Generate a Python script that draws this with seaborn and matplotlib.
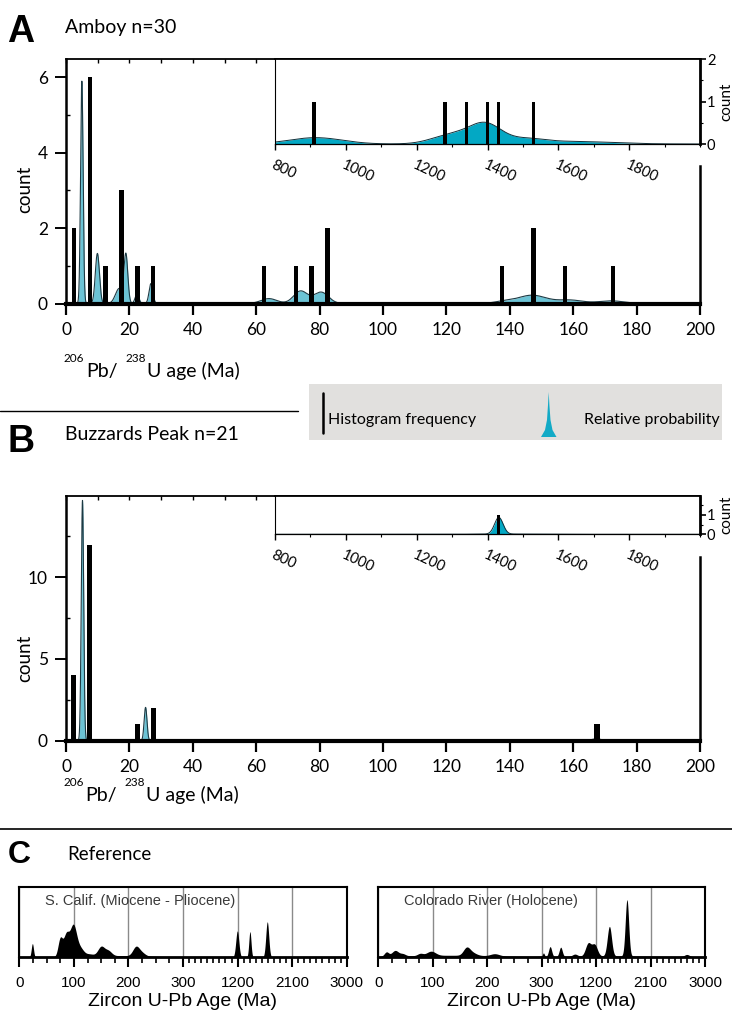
import numpy as np
import seaborn as sns
import matplotlib.pyplot as plt
from matplotlib.patches import Rectangle, Polygon
from matplotlib.lines import Line2D
from matplotlib.ticker import MultipleLocator, FixedLocator
from matplotlib.transforms import ScaledTranslation

sns.set_style("white")
plt.rcParams["font.family"] = ["Lato", "DejaVu Sans"]
for k in ["axes.edgecolor", "xtick.color", "ytick.color", "text.color", "axes.labelcolor"]:
    plt.rcParams[k] = "black"

W, H = 732, 1013

# histogram bins (bin centre in Ma, count)
amboy_ages = [2.5, 7.5, 12.5, 17.5, 22.5, 27.5, 62.5, 72.5, 77.5, 82.5, 137.5, 147.5, 157.5, 172.5]
amboy_counts = [2, 6, 1, 3, 1, 1, 1, 1, 1, 2, 1, 2, 1, 1]
amboy_old_ages = [910, 1280, 1340, 1400, 1430, 1530]
amboy_old_counts = [1, 1, 1, 1, 1, 1]
buzz_ages = [2.5, 7.5, 22.5, 27.5, 167.5]
buzz_counts = [4, 12, 1, 2, 1]
buzz_old_ages = [1430]
buzz_old_counts = [1]

# relative probability peaks: centre (Ma), height, width (Ma)
amboy_pk_mu = [5.0, 9.9, 16.8, 18.9, 22.4, 26.8, 64, 74, 80.5, 138, 147, 159, 172]
amboy_pk_h = [5.9, 1.33, 0.4, 1.25, 0.25, 0.53, 0.13, 0.33, 0.3, 0.05, 0.22, 0.09, 0.07]
amboy_pk_sd = [0.4, 0.65, 1.2, 0.6, 0.6, 0.6, 2.5, 2.2, 2.3, 3, 4.5, 4, 4]
amboy_old_mu = [915, 1300, 1395, 1510, 1640]
amboy_old_h = [0.15, 0.22, 0.45, 0.1, 0.06]
amboy_old_sd = [75, 55, 45, 50, 110]
buzz_pk_mu = [5.2, 25.1, 167.3]
buzz_pk_h = [14.7, 2.04, 0.12]
buzz_pk_sd = [0.38, 0.45, 1.5]
buzz_old_mu = [1432, 1450]
buzz_old_h = [0.86, 0.015]
buzz_old_sd = [12, 80]

# reference curves (panel C), heights as fraction of the frame
calif_mu = [24, 75, 86, 99, 112, 128, 180, 150, 163, 214, 225, 1196, 1404, 1690]
calif_h = [0.19, 0.25, 0.3, 0.44, 0.1, 0.03, 0.02, 0.13, 0.07, 0.13, 0.04, 0.37, 0.36, 0.5]
calif_sd = [2, 4, 5, 6, 6, 8, 60, 6, 6, 6, 6, 25, 18, 24]
colo_mu = [15, 31, 45, 77, 97, 162, 172, 214, 130, 330, 440, 615, 850, 1070, 1175, 1420, 1710, 2700, 1500]
colo_h = [0.06, 0.08, 0.03, 0.03, 0.06, 0.1, 0.04, 0.03, 0.02, 0.05, 0.14, 0.13, 0.03, 0.18, 0.16, 0.42, 0.8, 0.03, 0.015]
colo_sd = [4, 6, 5, 5, 8, 6, 8, 8, 80, 15, 25, 25, 40, 45, 45, 35, 28, 40, 900]

c_ticks = [0, 100, 200, 300, 1200, 2100, 3000]
c_minor = [25, 50, 75, 125, 150, 175, 225, 250, 275] + list(range(400, 1200, 100)) \
    + list(range(1300, 2100, 100)) + list(range(2200, 3000, 100))


def pdp(grid, mu, h, sd):
    return sum(hh * np.exp(-0.5 * ((grid - m) / s) ** 2) for m, hh, s in zip(mu, h, sd))


fig = plt.figure(figsize=(W / 100, H / 100), dpi=100)


def add_ax(l, t, r, b):
    return fig.add_axes([l / W, 1 - b / H, (r - l) / W, (b - t) / H])


def main_panel(ax, ages, counts, mu, h, sd, ymax, major, minor, spine_top, shrink):
    grid = np.linspace(0, 200, 8001)
    y = pdp(grid, mu, h, sd)
    ax.fill_between(grid, y, color="#6cc3d5", lw=0, zorder=1)
    ax.plot(grid, y, color="#1d3a44", lw=0.8, zorder=1.5)
    sns.histplot(x=ages, weights=counts, binwidth=5, binrange=(0, 200), shrink=shrink,
                 color="black", alpha=1, edgecolor="none", linewidth=0, ax=ax, zorder=3)
    ax.set_xlim(0, 200)
    ax.set_ylim(0, ymax)
    ax.set_xlabel("")
    ax.set_ylabel("")
    ax.set_xticks(range(0, 201, 20))
    ax.xaxis.set_minor_locator(MultipleLocator(10))
    ax.xaxis.remove_overlapping_locs = False
    ax.tick_params(axis="x", which="major", bottom=True, direction="out", length=8, width=1.6,
                   labelsize=12.5, pad=5)
    ax.tick_params(axis="x", which="minor", bottom=False, top=True, direction="in", length=3, width=1)
    ax.set_yticks(major)
    ax.yaxis.set_minor_locator(FixedLocator(minor))
    ax.tick_params(axis="y", which="major", left=True, direction="out", length=8, width=1.4,
                   labelsize=12.5, pad=5)
    ax.tick_params(axis="y", which="minor", left=True, direction="in", length=3, width=1)
    ax.spines["bottom"].set_linewidth(3)
    ax.spines["left"].set_linewidth(1.8)
    ax.spines["top"].set_linewidth(1.3)
    ax.spines["right"].set_linewidth(1.8)
    ax.spines["right"].set_bounds(0, spine_top)


def inset_panel(ax, ages, counts, mu, h, sd, ymax, yticks):
    grid = np.linspace(800, 2000, 4801)
    y = pdp(grid, mu, h, sd)
    ax.fill_between(grid, y, color="#03a8c4", lw=0, zorder=1)
    ax.plot(grid, y, color="#10303a", lw=0.7, zorder=1.5)
    sns.histplot(x=ages, weights=counts, binwidth=10, binrange=(805, 1995), shrink=0.9,
                 color="black", alpha=1, edgecolor="none", linewidth=0, ax=ax, zorder=3)
    ax.set_xlim(800, 2000)
    ax.set_ylim(0, ymax)
    ax.set_xlabel("")
    ticks = list(range(800, 1801, 200))
    ax.set_xticks(ticks)
    ax.set_xticklabels([str(t) for t in ticks], rotation=-25, ha="left", va="top",
                       rotation_mode="anchor")
    for lab in ax.get_xticklabels():
        lab.set_transform(lab.get_transform() + ScaledTranslation(-0.05, 0, fig.dpi_scale_trans))
    ax.xaxis.set_minor_locator(MultipleLocator(100))
    ax.tick_params(axis="x", which="major", bottom=True, direction="out", length=4, width=1,
                   labelsize=10.5, pad=6)
    ax.tick_params(axis="x", which="minor", bottom=True, direction="out", length=2, width=0.8)
    ax.yaxis.tick_right()
    ax.yaxis.set_label_position("right")
    ax.set_ylabel("count", fontsize=11, labelpad=3)
    ax.set_yticks(yticks)
    ax.yaxis.set_minor_locator(MultipleLocator(0.5))
    ax.tick_params(axis="y", which="major", right=True, left=False, direction="out", length=4,
                   width=1.2, labelsize=10.5, pad=1)
    ax.tick_params(axis="y", which="minor", right=True, left=False, direction="out", length=2, width=0.8)
    ax.spines["left"].set_linewidth(0.8)
    ax.spines["top"].set_linewidth(1.3)
    ax.spines["right"].set_linewidth(2)
    ax.spines["bottom"].set_linewidth(0.9)


def fwd(a):
    a = np.asarray(a, dtype=float)
    return np.where(a <= 300, a / 100, 3 + (a - 300) / 900)


def inv(p):
    p = np.asarray(p, dtype=float)
    return np.where(p <= 3, p * 100, 300 + (p - 3) * 900)


def ref_panel(ax, mu, h, sd, label):
    grid = np.concatenate([np.linspace(0, 300, 1501), np.linspace(300, 3000, 5401)])
    y = pdp(grid, mu, h, sd)
    ax.set_xscale("function", functions=(fwd, inv))
    ax.fill_between(grid, y, color="black", lw=0, zorder=2)
    ax.set_xlim(0, 3000)
    ax.set_ylim(0, 1)
    ax.set_yticks([])
    ax.set_xticks(c_ticks, labels=[str(t) for t in c_ticks], fontfamily="Liberation Sans", fontsize=11)
    ax.xaxis.set_minor_locator(FixedLocator(c_minor))
    ax.tick_params(axis="x", which="major", bottom=True, direction="out", length=7, width=1.5, pad=7)
    ax.tick_params(axis="x", which="minor", bottom=True, direction="out", length=4, width=1.2)
    ax.set_axisbelow(True)
    ax.grid(axis="x", which="major", color="#8a8a8a", lw=1)
    ax.set_xlabel("Zircon U-Pb Age (Ma)", fontfamily="Liberation Sans", fontsize=14, labelpad=2)
    for s in ["left", "right", "top"]:
        ax.spines[s].set_linewidth(1.5)
    ax.spines["bottom"].set_linewidth(2)
    ax.text(0.08, 0.8, label, transform=ax.transAxes, fontfamily="Liberation Sans",
            fontsize=10.5, color="#3a3a3a", va="center", ha="left", zorder=4)


# panel A
axA = add_ax(66, 59.3, 700, 303.5)
main_panel(axA, amboy_ages, amboy_counts, amboy_pk_mu, amboy_pk_h, amboy_pk_sd,
           6.48, [0, 2, 4, 6], [1, 3, 5], 3.66, 0.28)
axAi = add_ax(275, 59.3, 700, 144)
inset_panel(axAi, amboy_old_ages, amboy_old_counts, amboy_old_mu, amboy_old_h, amboy_old_sd,
            2, [0, 1, 2])

# panel B
axB = add_ax(66, 496, 700, 740.7)
main_panel(axB, buzz_ages, buzz_counts, buzz_pk_mu, buzz_pk_h, buzz_pk_sd,
           14.97, [0, 5, 10], [2.5, 7.5, 12.5], 11.24, 0.32)
axBi = add_ax(275, 496, 700, 534.3)
inset_panel(axBi, buzz_old_ages, buzz_old_counts, buzz_old_mu, buzz_old_h, buzz_old_sd,
            1.98, [0, 1])

# panel C
axC1 = add_ax(19.3, 886.7, 346.7, 957)
ref_panel(axC1, calif_mu, calif_h, calif_sd, "S. Calif. (Miocene - Pliocene)")
axC2 = add_ax(378.3, 886.7, 705, 957)
ref_panel(axC2, colo_mu, colo_h, colo_sd, "Colorado River (Holocene)")


# text
def ftext(x, y, s, **kw):
    return fig.text(x / W, 1 - y / H, s, **kw)


bold = dict(fontfamily="Liberation Sans", fontweight="bold", va="baseline", ha="left")
ftext(7, 41.7, "A", fontsize=27, **bold)
ftext(7, 452, "B", fontsize=27, **bold)
ftext(8, 863, "C", fontsize=23, **bold)
ftext(65, 32.7, "Amboy n=30", fontsize=14, va="baseline")
ftext(65, 440, "Buzzards Peak n=21", fontsize=14, va="baseline")
ftext(67, 860, "Reference", fontsize=13.5, va="baseline")
ftext(25, 189, "count", fontsize=13.5, rotation=90, ha="center", va="center")
ftext(25, 658, "count", fontsize=13.5, rotation=90, ha="center", va="center")

renderer = fig.canvas.get_renderer()


def isotope_label(x, y):
    # small raised mass numbers followed by the element, as in the original label
    parts = [("206", 8.5, 15, 2), ("Pb/", 14, 0, 7), ("238", 8.5, 15, 1), ("U age (Ma)", 14, 0, 0)]
    cur = x
    for s, fs, dy, gap in parts:
        t = ftext(cur, y - dy, s, fontsize=fs, va="baseline")
        cur += t.get_window_extent(renderer=renderer).width + gap


isotope_label(64, 376.7)
isotope_label(63, 800.7)

# separators
fig.add_artist(Line2D([0, 298 / W], [1 - 410.7 / H] * 2, color="black", lw=1.0))
fig.add_artist(Line2D([0, 1], [1 - 829 / H] * 2, color="black", lw=1.2))

# legend box
fig.add_artist(Rectangle((309 / W, 1 - 440 / H), (722 - 309) / W, (440 - 384) / H,
                         transform=fig.transFigure, facecolor="#e1e0de", edgecolor="none"))
fig.add_artist(Line2D([323 / W] * 2, [1 - 393 / H, 1 - 433 / H], color="black", lw=1.8))
ftext(328, 420, "Histogram frequency", fontsize=11.5, va="center")
spike = [(541, 437), (545, 430), (547, 420), (548, 405), (548.7, 392), (549.4, 405),
         (550.5, 420), (552.5, 430), (556.5, 437)]
fig.add_artist(Polygon([(x / W, 1 - y / H) for x, y in spike], closed=True,
                       transform=fig.transFigure, facecolor="#12aac6", edgecolor="none"))
ftext(584, 420, "Relative probability", fontsize=11.5, va="center")

fig.savefig("out.png", dpi=100)
